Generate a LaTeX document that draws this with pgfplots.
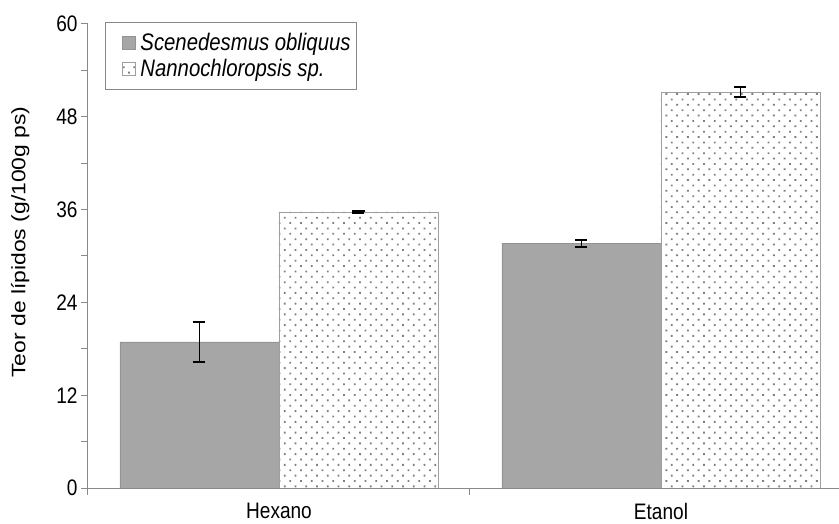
\documentclass[border=0pt]{standalone}
\usepackage{pgfplots}
\pgfplotsset{compat=1.18}
\usepackage{fontspec}
\setmainfont[FakeStretch=0.85]{Liberation Sans}
\newfontfamily\labfont{Liberation Sans}
\usetikzlibrary{patterns.meta,calc}
\definecolor{barg}{HTML}{A6A6A6}
\definecolor{axg}{HTML}{898989}
\begin{document}
\begin{tikzpicture}
\begin{axis}[
  name=ax,
  scale only axis,
  width=751bp, height=464bp,
  xmin=-0.5, xmax=1.466,
  ymin=0, ymax=60,
  axis lines*=left,
  axis line style={draw=axg, line width=1bp},
  tick align=outside,
  tick style={draw=axg, line width=1bp},
  xtick={0,1},
  xticklabels={Hexano,Etanol},
  minor xtick={-0.5,0.5},
  major x tick style={draw=none},
  minor tick length=7bp,
  major tick length=7bp,
  ytick={0,12,...,60},
  minor ytick={6,18,...,54},
  /pgf/number format/assume math mode=true,
  ticklabel style={font=\fontsize{22.5}{26}\selectfont, text=black},
  xticklabel style={yshift=-5bp},
  ylabel={\scalebox{1}[0.85]{\labfont\fontsize{23}{27}\selectfont Teor de lípidos (g/100g ps)}},
  ylabel style={yshift=20bp, xshift=14bp},
  ybar=0pt,
  bar width=159bp,
  legend style={at={(0.023,1.004)}, anchor=north west, draw=axg, line width=0.8bp,
    font=\fontsize{24}{28}\selectfont\itshape, row sep=3bp, inner xsep=4bp, inner ysep=9bp},
  legend cell align=left,
  legend image code/.code={\path (-12bp,0bp) (16bp,0bp); \draw[#1, line width=0.6bp] (0bp,-6.5bp) rectangle (13bp,6.5bp);},
  error bars/y dir=both,
  error bars/y explicit,
  error bars/error bar style={line width=1.6bp, black},
  error bars/error mark options={rotate=90, mark size=6bp, line width=1.6bp, black},
]
\addplot[fill=barg, draw=gray!85, line width=0.6bp] coordinates {
  (0,18.9) +- (0,2.6)
  (1,31.6) +- (0,0.45)
};
\addplot[pattern={Dots[radius=1.3bp, distance=7.6bp, angle=45]}, pattern color=black!50, draw=gray!75, line width=0.8bp] coordinates {
  (0,35.7) +- (0,0.15)
  (1,51.2) +- (0,0.65)
};
\legend{Scenedesmus obliquus, Nannochloropsis sp.}
\end{axis}
\pgfresetboundingbox
\path[use as bounding box] ($(ax.south west)+(-88bp,-36bp)$) rectangle ($(ax.north east)+(0bp,24bp)$);
\end{tikzpicture}
\end{document}
